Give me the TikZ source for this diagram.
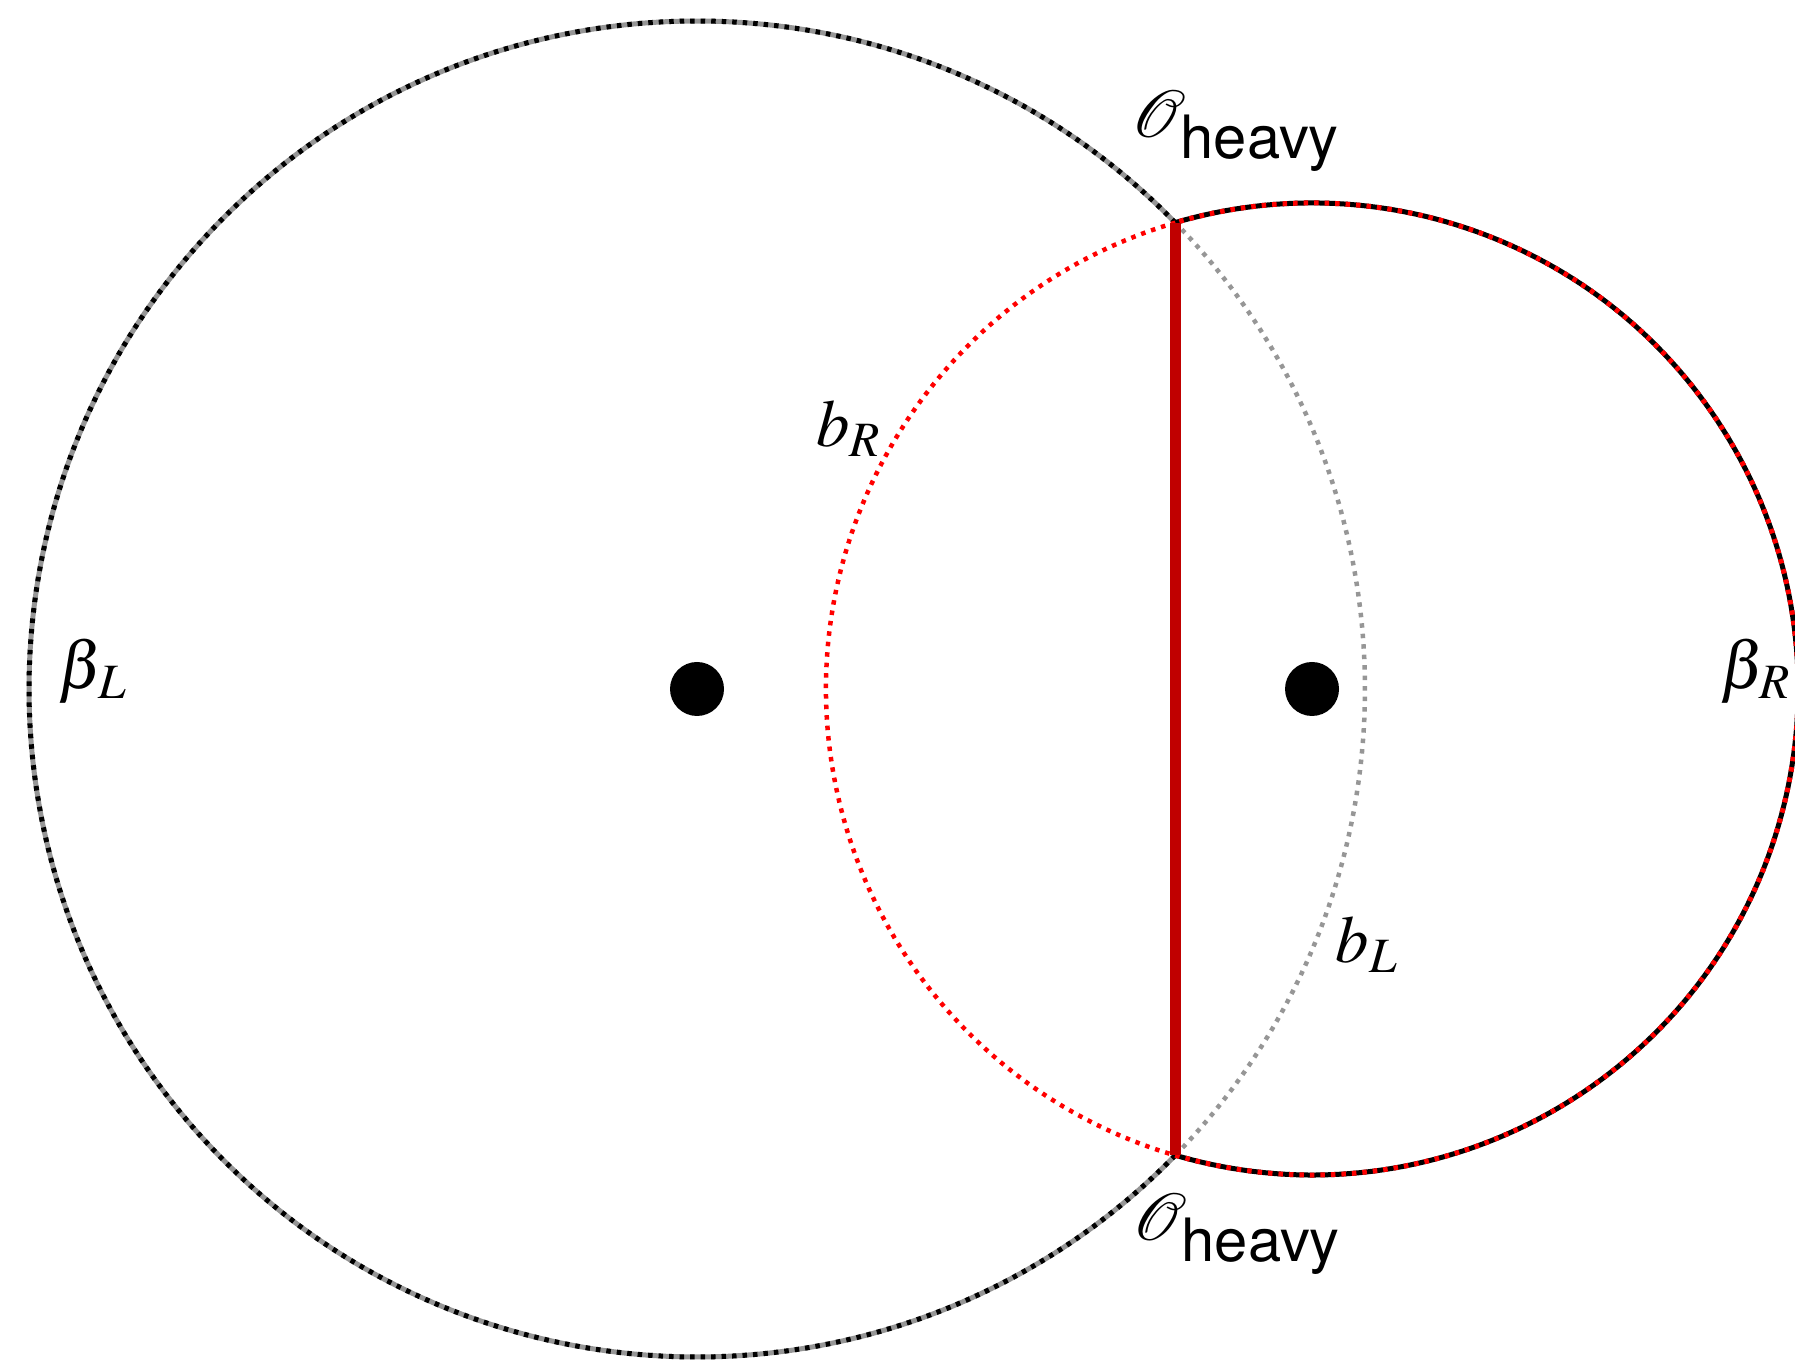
\documentclass[tikz,border=0pt]{standalone}
\usepackage{amsmath}
\usepackage{fontspec}
\setsansfont{TeX Gyre Heros}
\usepackage{mathptmx}
\usepackage{tikz}
\usetikzlibrary{calc}
\definecolor{dotred}{RGB}{255,0,0}
\definecolor{chordred}{RGB}{192,0,0}
\definecolor{midgray}{RGB}{150,150,150}
\newcommand{\heavyop}{\mathcal{O}_{\mbox{\fontsize{17}{20}\sffamily heavy}}}

\begin{document}
\begin{tikzpicture}[
  x=0.1mm, y=0.1mm,
  lbl/.style={font=\fontsize{19}{23}\selectfont, inner sep=0pt},
  baseline/.style={line width=0.5mm},
  dashover/.style={line width=0.5mm, dash pattern=on 0.45mm off 0.6mm},
  dotline/.style={line width=0.45mm, dash pattern=on 0.45mm off 0.6mm},
  chord/.style={line width=1.1mm, color=chordred},
  centre/.style={circle, fill=black, inner sep=0pt, minimum size=5.4mm}
]
\useasboundingbox (0,0) rectangle (1795,1359);
\coordinate (lc) at (697,670);
\coordinate (rc) at (1312,670);
\path (lc) ++(44.27:66.8mm) coordinate (top);
\path (lc) ++(-44.27:66.8mm) coordinate (bot);
% left circle
\draw[baseline, midgray] (top) arc[start angle=44.27, end angle=315.73, radius=66.8mm];
\draw[dashover, black] (top) arc[start angle=44.27, end angle=315.73, radius=66.8mm];
\draw[dotline, midgray] (bot) arc[start angle=-44.27, end angle=44.27, radius=66.8mm];
% right circle
\draw[baseline, black] (bot) arc[start angle=-106.34, end angle=106.34, radius=48.6mm];
\draw[dashover, dotred] (bot) arc[start angle=-106.34, end angle=106.34, radius=48.6mm];
\draw[dotline, dotred] (top) arc[start angle=106.34, end angle=253.66, radius=48.6mm];
\draw[chord] (top) -- (bot);
\node[centre] (ldot) at (lc) {};
\node[centre] (rdot) at (rc) {};
\node[lbl] (betaL) at (93,688) {$\beta_{\mkern1mu L}$};
\node[lbl] (betaR) at (1756,688) {$\beta_{\mkern1mu R}$};
\node[lbl] (bR) at (849,930) {$b_R$};
\node[lbl] (bL) at (1367,414) {$b_L$};
\node[lbl] (otop) at (1236,1228) {$\heavyop$};
\node[lbl] (obot) at (1237,125) {$\heavyop$};
\end{tikzpicture}
\end{document}
